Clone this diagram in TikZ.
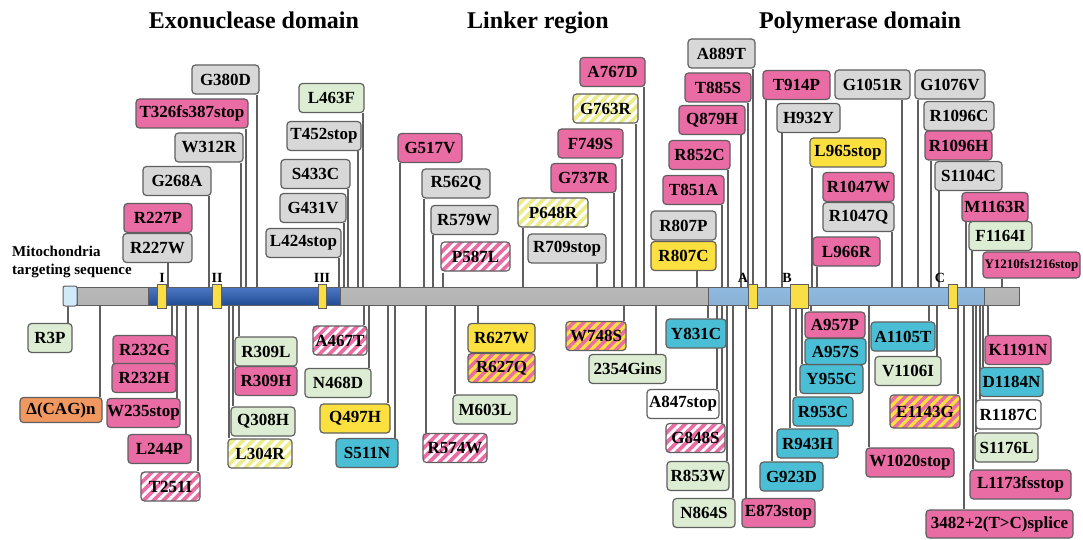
\documentclass[tikz,border=0pt]{standalone}
\usepackage{fontspec}
\setmainfont{Liberation Serif}
\usetikzlibrary{patterns.meta,backgrounds}
\definecolor{mpink}{RGB}{234,108,164}
\definecolor{mgray}{RGB}{216,216,216}
\definecolor{mgreen}{RGB}{221,237,211}
\definecolor{myellow}{RGB}{251,224,64}
\definecolor{mcyan}{RGB}{74,190,212}
\definecolor{morange}{RGB}{240,152,96}
\definecolor{mpale}{RGB}{236,236,140}
\definecolor{mline}{RGB}{95,95,95}
\definecolor{mdblue}{RGB}{44,96,186}
\definecolor{mlblue}{RGB}{152,196,236}
\definecolor{mmito}{RGB}{208,234,250}
\definecolor{mmotif}{RGB}{250,222,70}
\tikzset{
  mut/.style={draw=mline, line width=1.2pt, rounded corners=3.5pt, minimum height=29pt, inner sep=0pt, font=\bfseries\fontsize{17}{17}\selectfont},
  pk/.style={mut, fill=mpink},
  gr/.style={mut, fill=mgray},
  gn/.style={mut, fill=mgreen},
  yl/.style={mut, fill=myellow},
  cy/.style={mut, fill=mcyan},
  wh/.style={mut, fill=white},
  og/.style={mut, fill=morange},
  pkst/.style={mut, preaction={fill=mpink}, pattern={Lines[angle=45,distance=7pt,line width=3pt]}, pattern color=white},
  ylst/.style={mut, preaction={fill=myellow}, pattern={Lines[angle=45,distance=7pt,line width=3.5pt]}, pattern color=mpink},
  plst/.style={mut, preaction={fill=mpale}, pattern={Lines[angle=45,distance=7pt,line width=3pt]}, pattern color=white},
  conn/.style={draw=mline, line width=1.2pt},
  head/.style={font=\bfseries\fontsize{24}{24}\selectfont, anchor=base},
  mlab/.style={font=\bfseries\fontsize{14}{14}\selectfont, anchor=base, inner sep=0pt},
  mito/.style={font=\bfseries\fontsize{15}{15}\selectfont, anchor=base west, inner sep=0pt}
}
\begin{document}
\begin{tikzpicture}[x=1pt,y=-1pt]
            \useasboundingbox (0,0) rectangle (1083,540);
            \node[head] (exo) at (254,29) {Exonuclease domain};
            \node[head] (link) at (538,29) {Linker region};
            \node[head] (pol) at (860,29) {Polymerase domain};
            \node[mito] (mito1) at (12,256) {Mitochondria};
            \node[mito] (mito2) at (12,274) {targeting sequence};
            \shade[top color=gray!55, middle color=gray!18, bottom color=gray!60] (77,287) rectangle (148,305);
            \shade[top color=mdblue!85!white, middle color=mdblue, bottom color=mdblue!80!black] (148,287) rectangle (340,305);
            \shade[top color=gray!55, middle color=gray!18, bottom color=gray!60] (340,287) rectangle (708,305);
            \shade[top color=mlblue!95!black, middle color=mlblue!75!white, bottom color=mlblue!90!black] (708,287) rectangle (984,305);
            \shade[top color=gray!55, middle color=gray!18, bottom color=gray!60] (984,287) rectangle (1019,305);
            \draw[mline, line width=0.8pt] (148,287) -- (148,305) (340,287) -- (340,305) (708,287) -- (708,305) (984,287) -- (984,305);
            \draw[mline, line width=1pt] (77,287) rectangle (1019,305);
            \draw[mline, line width=1pt, fill=mmito, rounded corners=2pt] (63,286) rectangle (77,306);
            \draw[mline, line width=0.8pt, fill=mmotif] (157,284) rectangle (166,308);
            \draw[mline, line width=0.8pt, fill=mmotif] (212,284) rectangle (221,308);
            \draw[mline, line width=0.8pt, fill=mmotif] (318,284) rectangle (326,308);
            \draw[mline, line width=0.8pt, fill=mmotif] (748,284) rectangle (757,308);
            \draw[mline, line width=0.8pt, fill=mmotif] (790,284) rectangle (808,308);
            \draw[mline, line width=0.8pt, fill=mmotif] (948,284) rectangle (957,308);
            \coordinate (bartop) at (0,287);
            \coordinate (barbot) at (0,305);
            \node[mlab] (lI) at (162,282) {I};
            \node[mlab] (lII) at (217,282) {II};
            \node[mlab] (lIII) at (322,282) {III};
            \node[mlab] (lA) at (743,282) {A};
            \node[mlab] (lB) at (787,282) {B};
            \node[mlab] (lC) at (940,282) {C};
            \node[gr, minimum width=67pt] (g380d) at (225.5,79.5) {G380D};
            \node[pk, minimum width=112pt] (t326) at (192,113.5) {T326fs387stop};
            \node[gr, minimum width=68pt] (w312r) at (209,147.5) {W312R};
            \node[gr, minimum width=68pt] (g268a) at (177,181) {G268A};
            \node[pk, minimum width=68pt] (r227p) at (158,218) {R227P};
            \node[gr, minimum width=69pt] (r227w) at (157.5,248) {R227W};
            \node[gn, minimum width=65pt] (l463f) at (331.5,98) {L463F};
            \node[gr, minimum width=74pt] (t452) at (324,136) {T452stop};
            \node[gr, minimum width=69pt] (s433c) at (315.5,174) {S433C};
            \node[gr, minimum width=66pt] (g431v) at (313,208) {G431V};
            \node[gr, minimum width=75pt] (l424) at (303.5,243) {L424stop};
            \node[pk, minimum width=64pt] (g517v) at (430,148) {G517V};
            \node[gr, minimum width=68pt] (r562q) at (456,183.5) {R562Q};
            \node[gr, minimum width=67pt] (r579w) at (464.5,220) {R579W};
            \node[pkst, minimum width=69pt] (p587l) at (475.5,256.5) {P587L};
            \node[plst, minimum width=70pt] (p648r) at (553,212.5) {P648R};
            \node[gr, minimum width=78pt] (r709) at (567,248.5) {R709stop};
            \node[pk, minimum width=65pt] (a767d) at (612.5,72) {A767D};
            \node[plst, minimum width=65pt] (g763r) at (605.5,108.5) {G763R};
            \node[pk, minimum width=65pt] (f749s) at (590.5,143.5) {F749S};
            \node[pk, minimum width=65pt] (g737r) at (583.5,178) {G737R};
            \node[gr, minimum width=67pt] (a889t) at (721.5,53.5) {A889T};
            \node[pk, minimum width=66pt] (t885s) at (718,87.5) {T885S};
            \node[pk, minimum width=66pt] (q879h) at (712,120) {Q879H};
            \node[pk, minimum width=61pt] (r852c) at (699.5,155) {R852C};
            \node[pk, minimum width=61pt] (t851a) at (693.5,190) {T851A};
            \node[gr, minimum width=65pt] (r807p) at (683.5,225.5) {R807P};
            \node[yl, minimum width=65pt] (r807c) at (683.5,256) {R807C};
            \node[pk, minimum width=67pt] (t914p) at (796.5,85) {T914P};
            \node[gr, minimum width=63pt] (h932y) at (808.5,118) {H932Y};
            \node[yl, minimum width=76pt] (l965) at (848,152.5) {L965stop};
            \node[pk, minimum width=71pt] (r1047w) at (858.5,187) {R1047W};
            \node[gr, minimum width=71pt] (r1047q) at (858.5,217) {R1047Q};
            \node[pk, minimum width=67pt] (l966r) at (846.5,251.5) {L966R};
            \node[gr, minimum width=75pt] (g1051r) at (872.5,84.5) {G1051R};
            \node[gr, minimum width=70pt] (g1076v) at (950,84.5) {G1076V};
            \node[gr, minimum width=70pt] (r1096c) at (959,116) {R1096C};
            \node[pk, minimum width=67pt] (r1096h) at (958.5,145.5) {R1096H};
            \node[gr, minimum width=67pt] (s1104c) at (968.5,176) {S1104C};
            \node[pk, minimum width=66pt] (m1163r) at (995,207) {M1163R};
            \node[gn, minimum width=63pt] (f1164i) at (1000.5,236) {F1164I};
            \node[pk, minimum width=97pt, minimum height=26pt, font=\bfseries\fontsize{13}{13}\selectfont] (y1210) at (1031.5,265) {Y1210fs1216stop};
            \node[gn, minimum width=44pt] (r3p) at (50,338) {R3P};
            \node[og, minimum width=82pt, minimum height=25pt] (cag) at (61,410) {Δ(CAG)n};
            \node[pk, minimum width=63pt] (r232g) at (144.5,350) {R232G};
            \node[pk, minimum width=64pt] (r232h) at (144,378) {R232H};
            \node[pk, minimum width=73pt] (w235) at (143.5,413) {W235stop};
            \node[pk, minimum width=63pt] (l244p) at (159.5,449) {L244P};
            \node[pkst, minimum width=59pt] (t251i) at (170.5,486.5) {T251I};
            \node[gn, minimum width=62pt] (r309l) at (266,351.5) {R309L};
            \node[pk, minimum width=62pt] (r309h) at (266,381) {R309H};
            \node[gn, minimum width=64pt] (q308h) at (263,421.5) {Q308H};
            \node[plst, minimum width=64pt] (l304r) at (260,453.5) {L304R};
            \node[pkst, minimum width=54pt] (a467t) at (340,340.5) {A467T};
            \node[gn, minimum width=66pt] (n468d) at (338,383) {N468D};
            \node[yl, minimum width=70pt] (q497h) at (355,418.5) {Q497H};
            \node[cy, minimum width=62pt] (s511n) at (367,453) {S511N};
            \node[pkst, minimum width=64pt] (r574w) at (455,448) {R574W};
            \node[gn, minimum width=64pt] (m603l) at (485,409.5) {M603L};
            \node[yl, minimum width=67pt] (r627w) at (501.5,338) {R627W};
            \node[ylst, minimum width=67pt] (r627q) at (501.5,368) {R627Q};
            \node[ylst, minimum width=60pt] (w748s) at (596,336) {W748S};
            \node[gn, minimum width=77pt] (g2354) at (627.5,369) {2354Gins};
            \node[cy, minimum width=60pt] (y831c) at (696,333.5) {Y831C};
            \node[wh, minimum width=72pt] (a847) at (683,404) {A847stop};
            \node[pkst, minimum width=59pt] (g848s) at (695.5,438) {G848S};
            \node[gn, minimum width=62pt] (r853w) at (698,476) {R853W};
            \node[gn, minimum width=62pt] (n864s) at (704,513) {N864S};
            \node[pk, minimum width=73pt] (e873) at (778.5,513) {E873stop};
            \node[cy, minimum width=63pt] (g923d) at (791.5,476.5) {G923D};
            \node[cy, minimum width=61pt] (r943h) at (807.5,443.5) {R943H};
            \node[cy, minimum width=60pt] (r953c) at (823,411.5) {R953C};
            \node[cy, minimum width=63pt] (y955c) at (831.5,379) {Y955C};
            \node[pk, minimum width=60pt, minimum height=26pt] (a957p) at (835,325) {A957P};
            \node[cy, minimum width=61pt, minimum height=26pt] (a957s) at (835.5,351.5) {A957S};
            \node[pk, minimum width=88pt] (w1020) at (910,462.5) {W1020stop};
            \node[cy, minimum width=64pt] (a1105t) at (903,336.5) {A1105T};
            \node[gn, minimum width=66pt] (v1106i) at (908,371) {V1106I};
            \node[ylst, minimum width=70pt, minimum height=33pt] (e1143g) at (925,411.5) {E1143G};
            \node[pk, minimum width=147pt, minimum height=28pt] (splice) at (999.5,524) {3482+2(T>C)splice};
            \node[pk, minimum width=101pt] (l1173) at (1020.5,484.5) {L1173fsstop};
            \node[gn, minimum width=63pt] (s1176l) at (1006.5,447.5) {S1176L};
            \node[wh, minimum width=65pt] (r1187c) at (1008.5,414.5) {R1187C};
            \node[cy, minimum width=63pt] (d1184n) at (1011.5,382) {D1184N};
            \node[pk, minimum width=66pt] (k1191n) at (1018,350) {K1191N};
            \begin{scope}[on background layer]
            \draw[conn] (257,0 |- g380d.south) -- (257,0 |- bartop);
            \draw[conn] (246,0 |- t326.south) -- (246,0 |- bartop);
            \draw[conn] (241,0 |- w312r.south) -- (241,0 |- bartop);
            \draw[conn] (209,0 |- g268a.south) -- (209,0 |- bartop);
            \draw[conn] (168,0 |- r227w.south) -- (168,0 |- bartop);
            \draw[conn] (363,0 |- l463f.south) -- (363,0 |- bartop);
            \draw[conn] (358,0 |- t452.south) -- (358,0 |- bartop);
            \draw[conn] (348,0 |- s433c.south) -- (348,0 |- bartop);
            \draw[conn] (344,0 |- g431v.south) -- (344,0 |- bartop);
            \draw[conn] (339,0 |- l424.south) -- (339,0 |- bartop);
            \draw[conn] (400,0 |- g517v.south) -- (400,0 |- bartop);
            \draw[conn] (424,0 |- r562q.south) -- (424,0 |- bartop);
            \draw[conn] (433,0 |- r579w.south) -- (433,0 |- bartop);
            \draw[conn] (443,0 |- p587l.south) -- (443,0 |- bartop);
            \draw[conn] (523,0 |- p648r.south) -- (523,0 |- bartop);
            \draw[conn] (597,0 |- r709.south) -- (597,0 |- bartop);
            \draw[conn] (644,0 |- a767d.south) -- (644,0 |- bartop);
            \draw[conn] (636,0 |- g763r.south) -- (636,0 |- bartop);
            \draw[conn] (622,0 |- f749s.south) -- (622,0 |- bartop);
            \draw[conn] (614,0 |- g737r.south) -- (614,0 |- bartop);
            \draw[conn] (753,0 |- a889t.south) -- (753,0 |- bartop);
            \draw[conn] (748,0 |- t885s.south) -- (748,0 |- bartop);
            \draw[conn] (741,0 |- q879h.south) -- (741,0 |- bartop);
            \draw[conn] (728,0 |- r852c.south) -- (728,0 |- bartop);
            \draw[conn] (722,0 |- t851a.south) -- (722,0 |- bartop);
            \draw[conn] (697,0 |- r807c.south) -- (697,0 |- bartop);
            \draw[conn] (766,0 |- t914p.south) -- (766,0 |- bartop);
            \draw[conn] (782,0 |- h932y.south) -- (782,0 |- bartop);
            \draw[conn] (812,0 |- l965.south) -- (812,0 |- bartop);
            \draw[conn] (892,0 |- r1047q.south) -- (892,0 |- bartop);
            \draw[conn] (817,0 |- l966r.south) -- (817,0 |- bartop);
            \draw[conn] (902,0 |- g1051r.south) -- (902,0 |- bartop);
            \draw[conn] (918,0 |- g1076v.south) -- (918,0 |- bartop);
            \draw[conn] (931,0 |- r1096h.south) -- (931,0 |- bartop);
            \draw[conn] (939,0 |- s1104c.south) -- (939,0 |- bartop);
            \draw[conn] (966,0 |- m1163r.south) -- (966,0 |- bartop);
            \draw[conn] (972,0 |- f1164i.south) -- (972,0 |- bartop);
            \draw[conn] (1002,0 |- y1210.south) -- (1002,0 |- bartop);
            \draw[conn] (68,0 |- barbot) -- (68,0 |- r3p.north);
            \draw[conn] (100,0 |- barbot) -- (100,0 |- cag.north);
            \draw[conn] (172,0 |- barbot) -- (172,0 |- r232g.north);
            \draw[conn] (177,0 |- barbot) -- (177,0 |- w235.north);
            \draw[conn] (186,0 |- barbot) -- (186,0 |- l244p.north);
            \draw[conn] (198,0 |- barbot) -- (198,0 |- t251i.north);
            \draw[conn] (239,0 |- barbot) -- (239,0 |- r309l.north);
            \draw[conn] (233,0 |- barbot) -- (233,0 |- q308h.north);
            \draw[conn] (229,0 |- barbot) -- (229,0 |- l304r.north);
            \draw[conn] (364,0 |- barbot) -- (364,0 |- a467t.north);
            \draw[conn] (369,0 |- barbot) -- (369,0 |- n468d.north);
            \draw[conn] (388,0 |- barbot) -- (388,0 |- q497h.north);
            \draw[conn] (395,0 |- barbot) -- (395,0 |- s511n.north);
            \draw[conn] (426,0 |- barbot) -- (426,0 |- r574w.north);
            \draw[conn] (455,0 |- barbot) -- (455,0 |- m603l.north);
            \draw[conn] (478,0 |- barbot) -- (478,0 |- r627w.north);
            \draw[conn] (624,0 |- barbot) -- (624,0 |- w748s.north);
            \draw[conn] (656,0 |- barbot) -- (656,0 |- g2354.north);
            \draw[conn] (708,0 |- barbot) -- (708,0 |- y831c.north);
            \draw[conn] (717,0 |- barbot) -- (717,0 |- a847.north);
            \draw[conn] (722,0 |- barbot) -- (722,0 |- g848s.north);
            \draw[conn] (727,0 |- barbot) -- (727,0 |- r853w.north);
            \draw[conn] (733,0 |- barbot) -- (733,0 |- n864s.north);
            \draw[conn] (746,0 |- barbot) -- (746,0 |- e873.north);
            \draw[conn] (772,0 |- barbot) -- (772,0 |- g923d.north);
            \draw[conn] (790,0 |- barbot) -- (790,0 |- r943h.north);
            \draw[conn] (796,0 |- barbot) -- (796,0 |- r953c.north);
            \draw[conn] (802,0 |- barbot) -- (802,0 |- y955c.north);
            \draw[conn] (811,0 |- barbot) -- (811,0 |- a957p.north);
            \draw[conn] (869,0 |- barbot) -- (869,0 |- w1020.north);
            \draw[conn] (929,0 |- barbot) -- (929,0 |- a1105t.north);
            \draw[conn] (937,0 |- barbot) -- (937,0 |- v1106i.north);
            \draw[conn] (958,0 |- barbot) -- (958,0 |- e1143g.north);
            \draw[conn] (964,0 |- barbot) -- (964,0 |- splice.north);
            \draw[conn] (973,0 |- barbot) -- (973,0 |- l1173.north);
            \draw[conn] (976,0 |- barbot) -- (976,0 |- s1176l.north);
            \draw[conn] (980,0 |- barbot) -- (980,0 |- r1187c.north);
            \draw[conn] (983,0 |- barbot) -- (983,0 |- d1184n.north);
            \draw[conn] (988,0 |- barbot) -- (988,0 |- k1191n.north);
            \end{scope}
\end{tikzpicture}
\end{document}
